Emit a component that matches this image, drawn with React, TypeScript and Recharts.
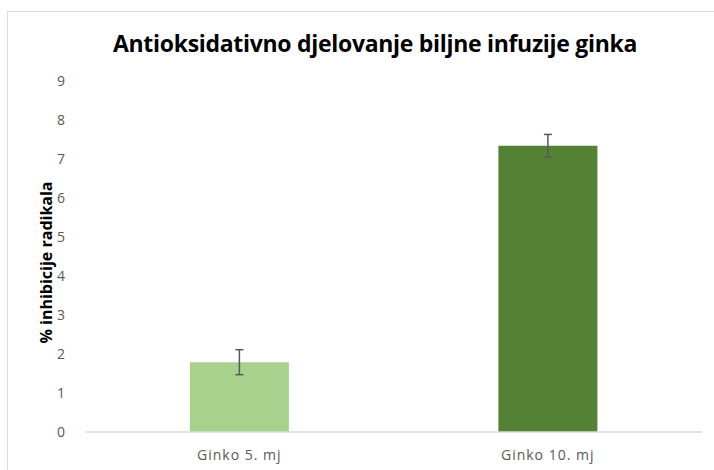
import React from "react";
import { BarChart, Bar, XAxis, YAxis, ErrorBar, Cell, Label } from "recharts";

const categories = ["Ginko 5. mj", "Ginko 10. mj"];
const values = [1.79, 7.34];
const errors = [0.32, 0.29];
const colors = ["#a9d18e", "#548235"];
const yTicks = [0, 1, 2, 3, 4, 5, 6, 7, 8, 9];

const data = categories.map((name, i) => ({
  name,
  value: values[i],
  err: errors[i],
}));

const font = "Open Sans, Liberation Sans, sans-serif";

export default function App() {
  return (
    <div
      style={{
        position: "fixed",
        left: 0,
        top: 0,
        width: 714,
        height: 470,
        background: "#fff",
        overflow: "hidden",
        fontFamily: font,
      }}
    >
      <div
        style={{
          position: "absolute",
          left: 7,
          top: 11,
          width: 740,
          height: 500,
          border: "1px solid #d9d9d9",
        }}
      />
      <div
        style={{
          position: "absolute",
          left: 0,
          top: 27,
          width: 750,
          textAlign: "center",
          fontSize: 23,
          fontWeight: 700,
          color: "#000",
          letterSpacing: -0.3,
        }}
      >
        Antioksidativno djelovanje biljne infuzije ginka
      </div>
      <div style={{ position: "absolute", left: 0, top: 0 }}>
        <BarChart
          width={714}
          height={470}
          data={data}
          margin={{ top: 81, right: 12, left: 0, bottom: 8 }}
          barCategoryGap="34%"
        >
          <XAxis
            dataKey="name"
            height={30}
            axisLine={{ stroke: "#d9d9d9", strokeWidth: 1.5 }}
            tickLine={false}
            tick={{ fill: "#595959", fontSize: 14, letterSpacing: 1, fontFamily: font }}
            dy={10}
          />
          <YAxis
            width={85}
            domain={[0, 9]}
            ticks={yTicks}
            interval={0}
            axisLine={false}
            tickLine={false}
            tick={{ fill: "#595959", fontSize: 14, fontFamily: font }}
            dx={-12}
          >
            <Label
              value="% inhibicije radikala"
              angle={-90}
              position="insideLeft"
              offset={46}
              dy={6}
              style={{
                fill: "#000",
                fontSize: 16,
                fontWeight: 700,
                textAnchor: "middle",
                fontFamily: font,
              }}
            />
          </YAxis>
          <Bar dataKey="value" isAnimationActive={false}>
            {data.map((d, i) => (
              <Cell key={d.name} fill={colors[i]} />
            ))}
            <ErrorBar
              dataKey="err"
              width={4}
              stroke="#595959"
              strokeWidth={1.5}
              direction="y"
              isAnimationActive={false}
            />
          </Bar>
        </BarChart>
      </div>
    </div>
  );
}
